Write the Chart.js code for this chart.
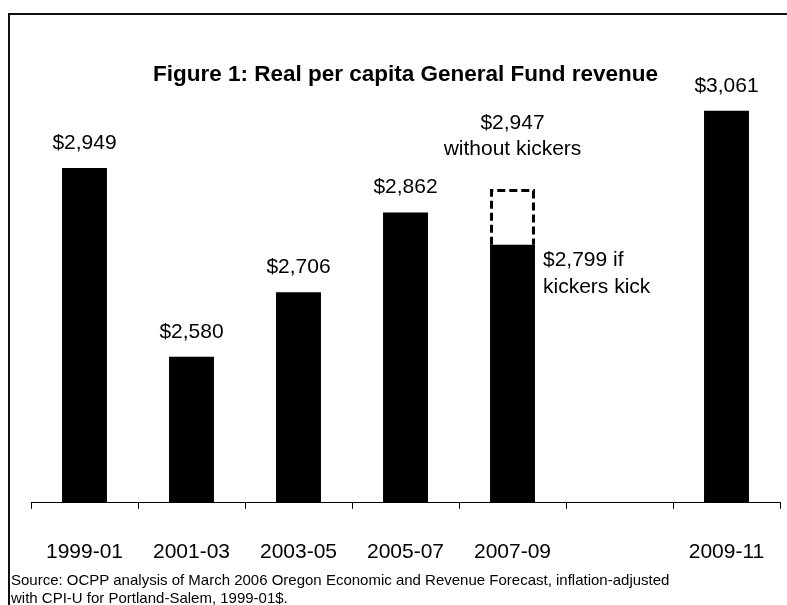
<!DOCTYPE html>
<html>
<head>
<meta charset="utf-8">
<title>Figure 1: Real per capita General Fund revenue</title>
<script src="https://cdn.jsdelivr.net/npm/chart.js@4/dist/chart.umd.min.js"></script>
<style>
    html, body { margin: 0; padding: 0; background: #fff; }
    #wrap { position: relative; width: 787px; height: 605px; overflow: hidden; }
    #wrap canvas { position: absolute; left: 0; top: 0; }
    #frame {
        position: absolute; left: 8px; top: 13px; right: -10px; bottom: -10px;
        border-top: 2px solid #111; border-left: 2px solid #111;
    }
    #source {
        position: absolute; left: 11px; top: 571px;
        font: 15px 'Liberation Sans', Arial, sans-serif; line-height: 18px; color: #000;
    }
</style>
</head>
<body>
<div id="wrap">
    <div id="frame"></div>
    <canvas id="chart" width="787" height="605"></canvas>
    <div id="source">Source: OCPP analysis of March 2006 Oregon Economic and Revenue Forecast, inflation-adjusted<br>with CPI-U for Portland-Salem, 1999-01$.</div>
</div>
<script>
// values
const categories = ['1999-01', '2001-03', '2003-05', '2005-07', '2007-09', '', '2009-11'];
const revenue = [2949, 2580, 2706, 2862, 2799, null, 3061];
const revenueLabels = ['$2,949', '$2,580', '$2,706', '$2,862', null, null, '$3,061'];
// dashed box on 2007-09 (top as drawn in the figure)
const noKickerTop = [null, null, null, null, 2905, null, null];
const noKickerNote = ['$2,947', 'without kickers'];
const kickNote = ['$2,799 if', 'kickers kick'];

const FONT = "'Liberation Sans', Arial, sans-serif";
const labelFont = '21px ' + FONT;

const barLabels = {
    id: 'barLabels',
    afterDatasetsDraw(chart) {
        const ctx = chart.ctx;
        const solid = chart.getDatasetMeta(0).data;
        const dashed = chart.getDatasetMeta(1).data;
        ctx.save();
        ctx.fillStyle = '#000';
        ctx.strokeStyle = '#000';
        ctx.font = labelFont;
        ctx.textBaseline = 'middle';

        dashed.forEach((bar, i) => {
            if (noKickerTop[i] == null) return;
            const half = bar.width / 2;
            ctx.lineWidth = 3;
            ctx.setLineDash([8, 4]);
            ctx.beginPath();
            ctx.moveTo(bar.x - half + 1.5, bar.base);
            ctx.lineTo(bar.x - half + 1.5, bar.y);
            ctx.lineTo(bar.x + half - 1.5, bar.y);
            ctx.lineTo(bar.x + half - 1.5, bar.base);
            ctx.stroke();
            ctx.setLineDash([]);
            ctx.textAlign = 'center';
            ctx.fillText(noKickerNote[0], bar.x, bar.y - 67);
            ctx.fillText(noKickerNote[1], bar.x, bar.y - 41);
        });

        solid.forEach((bar, i) => {
            if (revenue[i] == null) return;
            if (revenueLabels[i]) {
                ctx.textAlign = 'center';
                ctx.fillText(revenueLabels[i], bar.x, bar.y - 25);
            } else {
                ctx.textAlign = 'left';
                const left = bar.x + bar.width / 2 + 8;
                ctx.fillText(kickNote[0], left, bar.y + 15);
                ctx.fillText(kickNote[1], left, bar.y + 42);
            }
        });
        ctx.restore();
    }
};

new Chart(document.getElementById('chart'), {
    type: 'bar',
    data: {
        labels: categories,
        datasets: [{
            data: revenue,
            backgroundColor: '#000',
            borderWidth: 0,
            categoryPercentage: 1,
            barPercentage: 0.42,
            grouped: false
        }, {
            data: noKickerTop.map((v, i) => v == null ? null : [revenue[i], v]),
            backgroundColor: 'rgba(0,0,0,0)',
            borderWidth: 0,
            categoryPercentage: 1,
            barPercentage: 0.42,
            grouped: false
        }]
    },
    options: {
        responsive: false,
        devicePixelRatio: 1,
        animation: false,
        layout: { padding: { left: 31, right: 7, top: 0, bottom: 9 } },
        plugins: {
            legend: { display: false },
            tooltip: { enabled: false },
            title: {
                display: true,
                text: 'Figure 1: Real per capita General Fund revenue',
                color: '#000',
                font: { family: FONT, size: 22.5, weight: 'bold' },
                padding: { top: 61, bottom: 12 }
            }
        },
        scales: {
            x: {
                // the big label gap should not push the plot in from the sides
                afterFit(scale) {
                    scale.paddingLeft = 0;
                    scale.paddingRight = 0;
                },
                grid: {
                    offset: true,
                    drawOnChartArea: false,
                    drawTicks: true,
                    tickLength: 6,
                    color: '#000',
                    lineWidth: 1
                },
                border: { display: true, color: '#000', width: 1 },
                ticks: {
                    color: '#000',
                    font: { family: FONT, size: 21 },
                    padding: 31,
                    maxRotation: 0,
                    autoSkip: false
                }
            },
            y: {
                display: false,
                min: 2294.5,
                max: 3082
            }
        }
    },
    plugins: [barLabels]
});
</script>
</body>
</html>
